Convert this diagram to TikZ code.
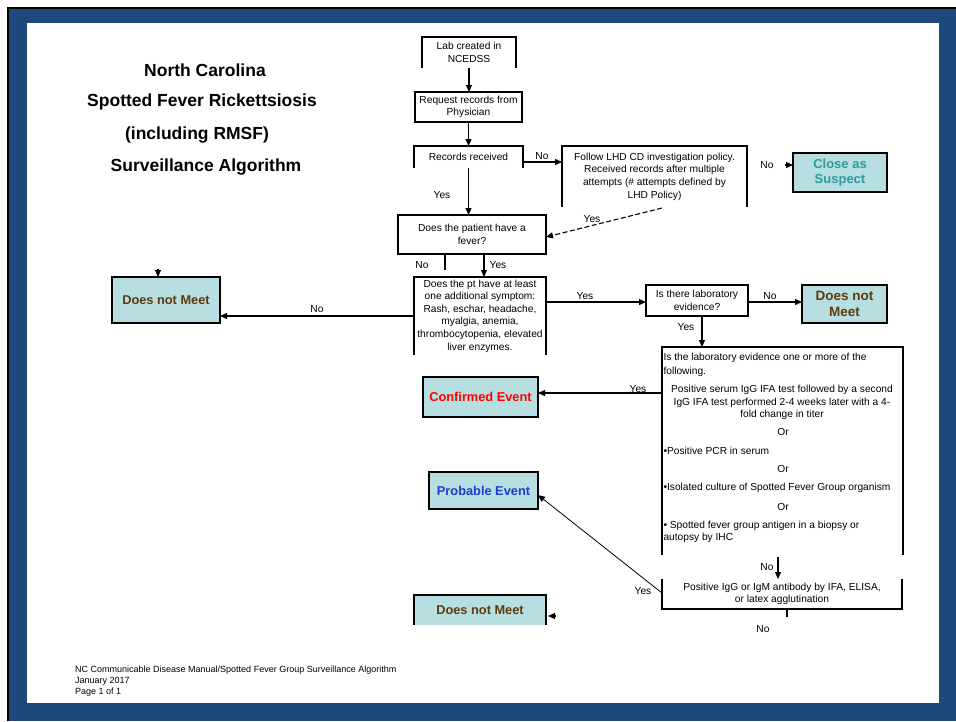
\documentclass[tikz,border=0pt]{standalone}
\usepackage{fontspec}
\setmainfont{Liberation Sans}
\usetikzlibrary{arrows.meta,calc}

\definecolor{framebl}{HTML}{1F497D}
\definecolor{aqua}{HTML}{B7DEE0}
\definecolor{brownt}{HTML}{5F3A0E}
\definecolor{tealt}{HTML}{2E9C9C}
\definecolor{probbl}{HTML}{1A3FD0}

\tikzset{
  edge/.style={line width=1.1pt},
  arr/.style={line width=1.1pt, -{Triangle[length=7pt,width=6pt]}},
  thinarr/.style={line width=0.8pt, -{Triangle[length=7pt,width=6pt]}},
  outcome/.style={draw, line width=1.1pt, fill=aqua, align=center, inner sep=0, outer sep=0,
    font=\bfseries\fontsize{12.8}{15.5}\selectfont},
  qbox/.style={inner sep=0, outer sep=0, align=center, font=\fontsize{10.2}{12.6}\selectfont},
  evtext/.style={inner sep=0, outer sep=0, font=\fontsize{10.2}{12.4}\selectfont},
  lbl/.style={inner sep=0, font=\fontsize{10.2}{12}\selectfont},
  ttl/.style={inner sep=0, font=\bfseries\fontsize{17.5}{20}\selectfont},
}

\begin{document}
\begin{tikzpicture}[x=1pt,y=-1pt]
\useasboundingbox (0,0) rectangle (956,721);

% page frame
\fill[white] (0,0) rectangle (956,721);
\fill[framebl] (9,9) rectangle (956,721);
\fill[white] (27,23) rectangle (939,703);
\fill[black] (7,7) rectangle (956,9);
\fill[black] (7,7) rectangle (9,721);

% title
\node[ttl] (t1) at (205,70) {North Carolina};
\node[ttl] (t2) at (202,102) {Spotted Fever Rickettsiosis};
\node[ttl] (t3) at (197,135) {(including RMSF)};
\node[ttl] (t4) at (206,167) {Surveillance Algorithm};

% process boxes
\node[qbox, minimum width=94, minimum height=31] (lab) at (469,52.5) {Lab created in\\NCEDSS};
\draw[edge] (lab.south west) -- (lab.north west) -- (lab.north east) -- (lab.south east);

\node[qbox, draw, line width=1.1pt, minimum width=107, minimum height=30] (req) at (468.5,107) {Request records from\\Physician};

\node[qbox, minimum width=109, minimum height=22] (rec) at (468.5,157) {Records received};
\draw[edge] (rec.south west) -- (rec.north west) -- (rec.north east) -- (rec.south east);

\node[qbox, minimum width=185, minimum height=61] (fol) at (654.5,176.5)
  {Follow LHD CD investigation policy.\\Received records after multiple\\attempts (\# attempts defined by\\LHD Policy)};
\draw[edge] (fol.south west) -- (fol.north west) -- (fol.north east) -- (fol.south east);

\node[outcome, text=tealt, font=\bfseries\fontsize{13}{15.5}\selectfont, minimum width=94, minimum height=39] (close) at (840,172.5) {Close as\\Suspect};

\node[qbox, draw, line width=1.1pt, minimum width=148, minimum height=39] (fev) at (472,234.5) {Does the patient have a\\fever?};

\node[qbox, minimum width=132, minimum height=78] (sym) at (480,316)
  {Does the pt have at least\\one additional symptom:\\Rash, eschar, headache,\\myalgia, anemia,\\thrombocytopenia, elevated\\liver enzymes.};
\draw[edge] (sym.south west) -- (sym.north west) -- (sym.north east) -- (sym.south east);

\node[outcome, text=brownt, minimum width=108, minimum height=46] (dnm1) at (166,300) {Does not Meet};

\node[qbox, draw, line width=1.1pt, minimum width=102, minimum height=31] (labq) at (697,300.5) {Is there laboratory\\evidence?};

\node[outcome, text=brownt, font=\bfseries\fontsize{13.5}{15.5}\selectfont, minimum width=85, minimum height=38] (dnm2) at (844.5,304) {Does not\\Meet};

% laboratory evidence criteria
\node[inner sep=0, outer sep=0, minimum width=241, minimum height=208] (evid) at (782.5,451) {};
\draw[edge] (evid.south west) -- (evid.north west) -- (evid.north east) -- (evid.south east);
\node[evtext, anchor=west] (ev1) at (663.5,358) {Is the laboratory evidence one or more of the};
\node[evtext, anchor=west] (ev2) at (663.5,372) {following.};
\node[evtext, align=center] (ev3) at (782,402.5) {Positive serum IgG IFA test followed by a second\\IgG IFA test performed 2-4 weeks later with a 4-\\fold change in titer};
\node[evtext] (or1) at (783,432) {Or};
\node[evtext, anchor=west] (ev4) at (663.5,451) {•Positive PCR in serum};
\node[evtext] (or2) at (783,469) {Or};
\node[evtext, anchor=west] (ev5) at (663.5,488) {•Isolated culture of Spotted Fever Group organism};
\node[evtext] (or3) at (783,507) {Or};
\node[evtext, anchor=west, align=left] (ev6) at (663.5,532) {• Spotted fever group antigen in a biopsy or\\autopsy by IHC};

\node[outcome, text=red, minimum width=115, minimum height=40] (conf) at (480.5,397) {Confirmed Event};
\node[outcome, text=probbl, minimum width=109, minimum height=37] (prob) at (483.5,490.5) {Probable Event};

\node[qbox, minimum width=240, minimum height=30] (anti) at (782,594) {Positive IgG or IgM antibody by IFA, ELISA,\\or latex agglutination};
\draw[edge] (anti.north west) -- (anti.south west) -- (anti.south east) -- (anti.north east);

\node[outcome, draw=none, text=brownt, minimum width=132, minimum height=30] (dnm3) at (480,610) {Does not Meet};
\draw[edge] (dnm3.south west) -- (dnm3.north west) -- (dnm3.north east) -- (dnm3.south east);

% connectors
\draw[arr] (lab.south) -- (lab.south |- req.north);
\draw[arr] (req.south) -- (req.south |- rec.north);
\draw[arr] ([yshift=-5pt]rec.east) -- ([yshift=-5pt]rec.east -| fol.west);
\node[lbl] (lNo1) at (542,156) {No};
\draw[arr] ([xshift=-8pt,yshift=7.5pt]close.west) -- ([yshift=7.5pt]close.west);
\node[lbl] (lNo2) at (767,165) {No};
\draw[arr] (rec.south) -- (rec.south |- fev.north);
\node[lbl] (lYes1) at (442,195) {Yes};
\draw[arr, dash pattern=on 5pt off 2.5pt] ([xshift=7.5pt,yshift=-1pt]fol.south) -- ([yshift=-2.5pt]fev.east);
\node[lbl] (lYes2) at (592,219) {Yes};

\draw[arr] ([xshift=12pt]fev.south) -- ([xshift=12pt]fev.south |- sym.north);
\node[lbl] (lYes3) at (498,265) {Yes};
\draw[edge] ([xshift=-27pt]fev.south) -- ++(0,16);
\node[lbl] (lNo3) at (422,265) {No};
\draw[arr] ([xshift=-8pt,yshift=8pt]dnm1.north) -- ([xshift=-8pt]dnm1.north);

\draw[arr] (sym.west) -- (sym.west -| dnm1.east);
\node[lbl] (lNo4) at (317,309) {No};
\draw[arr] ([yshift=14pt]sym.east) -- ([yshift=14pt]sym.east -| labq.west);
\node[lbl] (lYes4) at (585,296) {Yes};
\draw[arr] ([yshift=-1.5pt]labq.east) -- ([yshift=-1.5pt]labq.east -| dnm2.west);
\node[lbl] (lNo5) at (770,296) {No};
\draw[arr] ([xshift=5pt]labq.south) -- ([xshift=5pt]labq.south |- evid.north);
\node[lbl] (lYes5) at (686,327) {Yes};

\draw[arr] ([yshift=4pt]conf.east -| evid.west) -- ([yshift=4pt]conf.east);
\node[lbl] (lYes6) at (638,389) {Yes};
\draw[arr] ([xshift=-4.5pt,yshift=-2pt]evid.south) -- ([xshift=-4.5pt]evid.south |- anti.north);
\node[lbl] (lNo6) at (767,567) {No};
\draw[thinarr] ([yshift=1pt]anti.west) -- ([yshift=-4.5pt]prob.east);
\node[lbl] (lYes7) at (643,591) {Yes};
\draw[edge] ([xshift=5pt]anti.south) -- ++(0,8);
\node[lbl] (lNo7) at (763,629) {No};
\draw[arr] ([xshift=9pt,yshift=-6pt]dnm3.east) -- ([xshift=2pt,yshift=-6pt]dnm3.east);

% footer
\node[anchor=west, align=left, inner sep=0, font=\fontsize{9}{11}\selectfont] (foot) at (75,681)
  {NC Communicable Disease Manual/Spotted Fever Group Surveillance Algorithm\\January 2017\\Page 1 of 1};
\end{tikzpicture}
\end{document}
